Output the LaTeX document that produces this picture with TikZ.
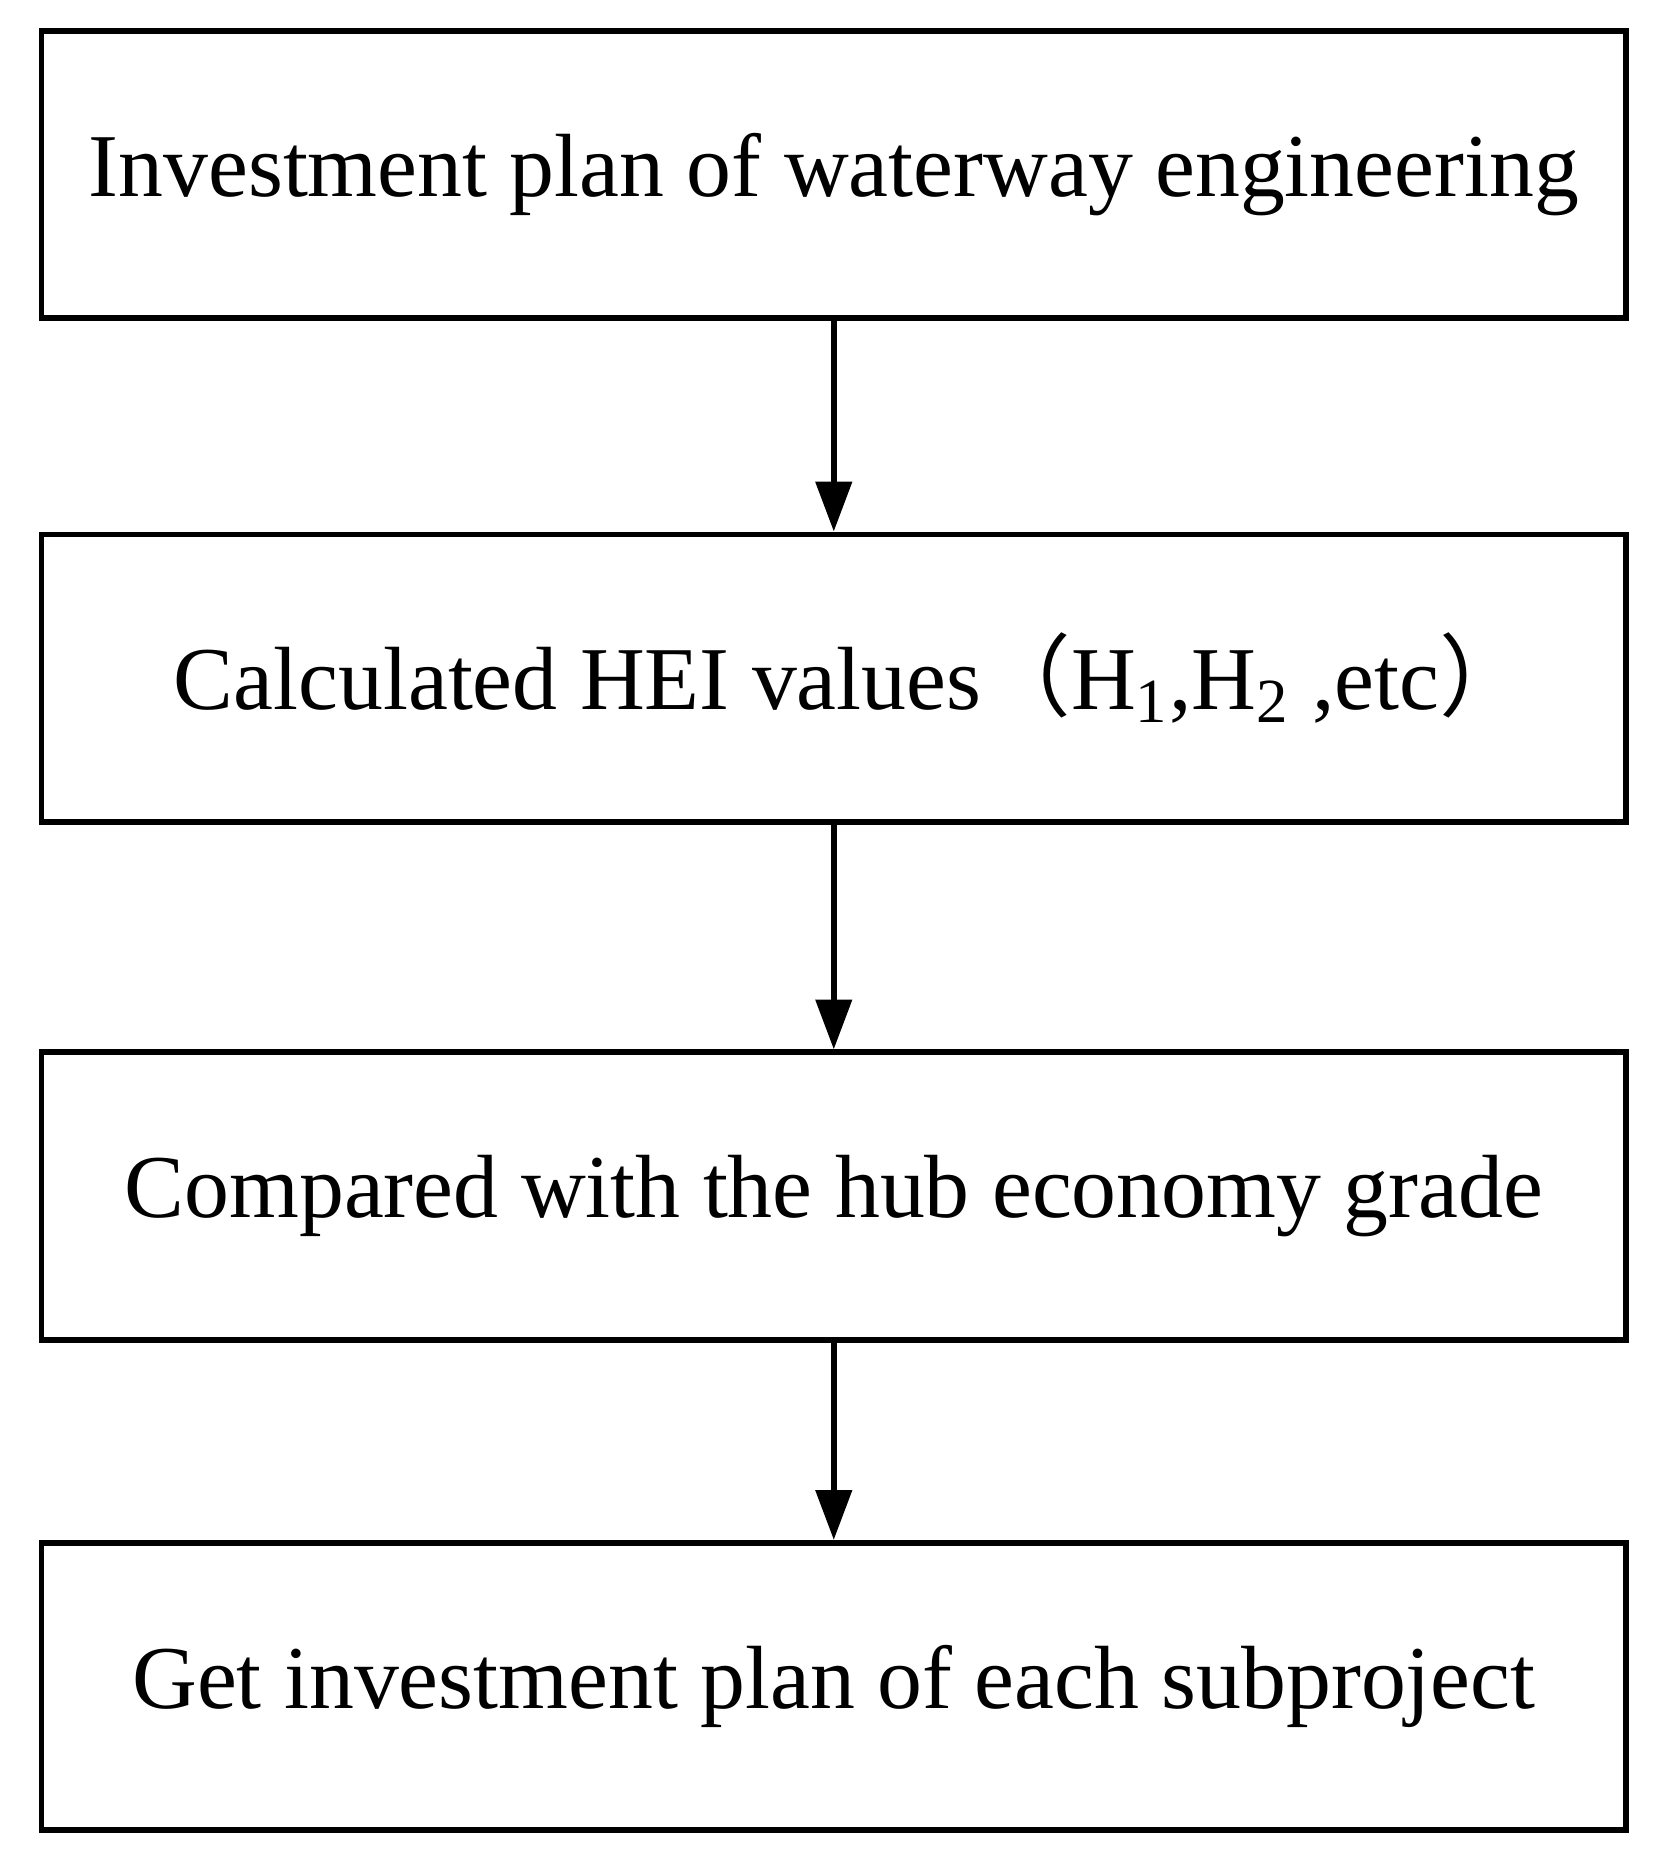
\documentclass[tikz,border=0pt]{standalone}
\usepackage{fontspec}
\setmainfont{Liberation Serif}
\newfontfamily\cjk{Noto Sans CJK SC}
\usetikzlibrary{positioning,arrows.meta}
\tikzset{
  stepbox/.style={draw, line width=1.4pt, minimum width=13.34cm, minimum height=2.42cm,
    font=\fontsize{21.5}{26}\selectfont, inner sep=0pt},
  flow/.style={-{Triangle[length=0.42cm,width=0.3cm]}, line width=1.4pt}
}
\begin{document}
\begin{tikzpicture}
  \useasboundingbox (0,0) rectangle (14,-15.77);

  %--- the four steps ----------------------------------------------------
  \node[stepbox] (plan) at (7.02,-1.47) {Investment plan of waterway engineering};
  \node[stepbox] (hei)  at (7.02,-5.71) {\hspace{0.3cm}Calculated HEI values{\cjk （}H\textsubscript{1},H\textsubscript{2} ,etc{\cjk ）}};
  \node[stepbox] (comp) at (7.02,-10.07) {Compared with the hub economy grade};
  \node[stepbox] (get)  at (7.02,-14.20) {Get investment plan of each subproject};

  %--- arrows -----------------------------------------------------------
  \draw[flow] (plan) -- (hei);
  \draw[flow] (hei) -- (comp);
  \draw[flow] (comp) -- (get);
\end{tikzpicture}
\end{document}
